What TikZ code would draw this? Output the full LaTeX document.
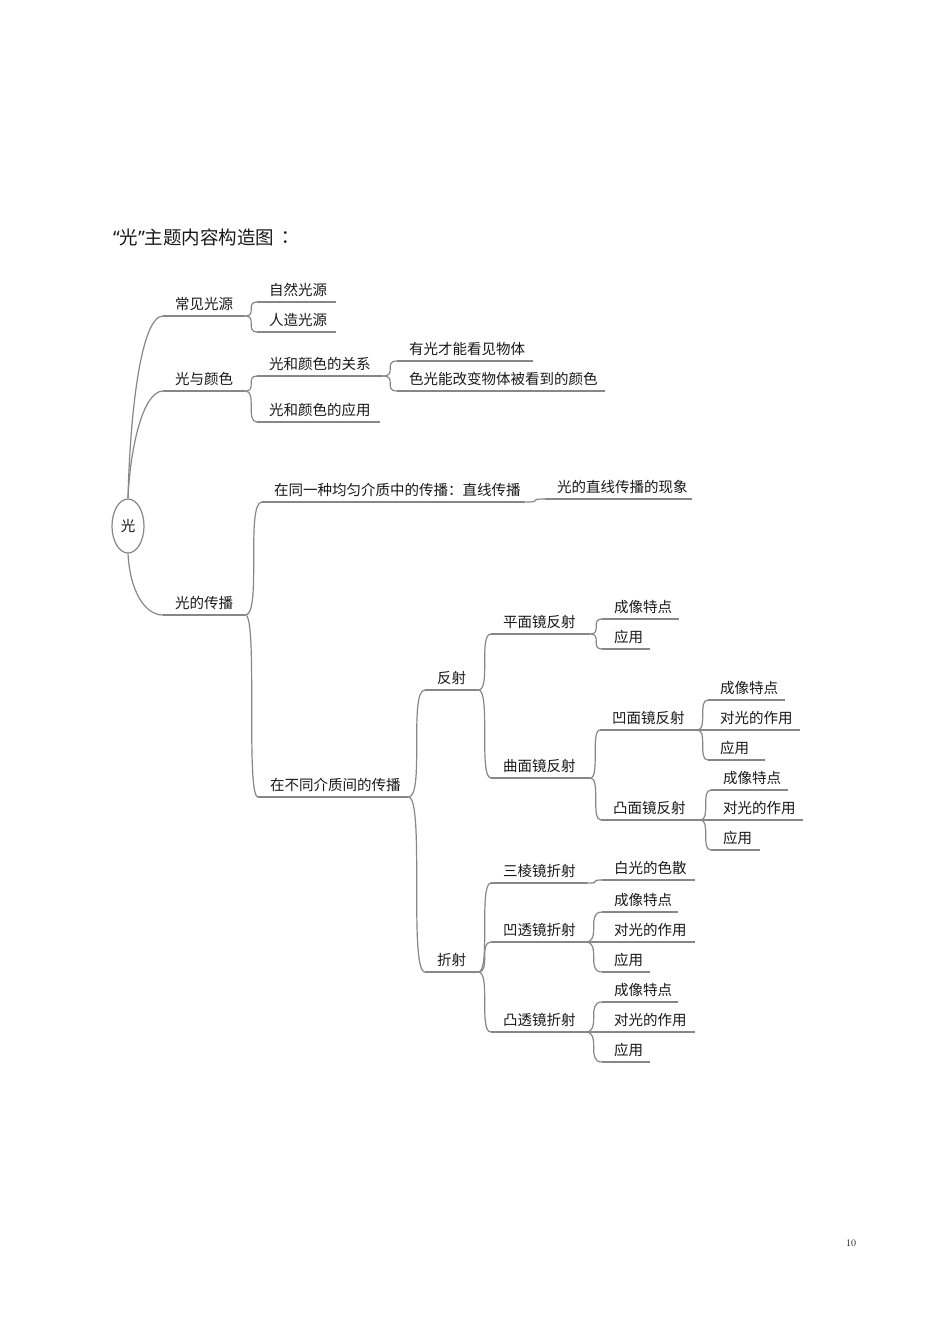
\documentclass[tikz,border=0pt]{standalone}
\usepackage{fontspec}
\newfontfamily\cjk{Noto Sans CJK SC}
\newfontfamily\cjkjp{Noto Sans CJK JP}
\newfontfamily\latq{Noto Sans}
\usetikzlibrary{calc,shapes.geometric}
\definecolor{linegray}{RGB}{135,135,135}
\definecolor{txt}{RGB}{25,25,25}
\newcommand\mmitem[5]{%
  \pgfmathsetmacro\mmw{#3-#2}%
  \node[item, text width=\mmw pt] (#1) at (#2,#4) {\hspace*{12pt}#5};
  \draw[ln] (#1.south west) -- (#1.south east);}
\newcommand\mmconn[2]{%
  \draw[ln] (#1.south east) .. controls (#2.south west |- #1.south east) and (#1.south east |- #2.south west) .. (#2.south west);}
\begin{document}
\begin{tikzpicture}[x=1pt,y=-1pt,
  ln/.style={draw=linegray, line width=1.2pt},
  item/.style={anchor=south west, inner xsep=0pt, inner ysep=6.5pt, text height=11pt, text depth=0pt, align=left, font=\cjk\fontsize{14.5}{14.5}\selectfont, text=txt},
]
\useasboundingbox (0,0) rectangle (950,1344);
\fill[white] (0,0) rectangle (950,1344);

\node[anchor=west, inner sep=0pt, font=\cjk\fontsize{18.5}{18.5}\selectfont, text=txt] (title) at (113,237) {{\latq “}光{\latq ”}主题内容构造图\hspace{2pt}{\cjkjp ：}};
\node[font=\fontsize{10}{10}\selectfont, text=txt] (pg) at (851,1243) {10};

\node[draw=linegray, line width=1.2pt, ellipse, minimum width=32pt, minimum height=54pt, inner sep=0pt, font=\cjk\fontsize{14.5}{14.5}\selectfont, text=txt] (root) at (128,526) {光};

% level 1
\mmitem{cjgy}{163}{245}{316}{常见光源}
\mmitem{gyys}{163}{245}{391}{光与颜色}
\mmitem{gdcb}{163}{245}{615}{光的传播}

% 常见光源
\mmitem{zrgy}{257}{336}{302}{自然光源}
\mmitem{rzgy}{257}{336}{332}{人造光源}
% 光与颜色
\mmitem{gxys}{257}{383}{376}{光和颜色的关系}
\mmitem{yyyy}{257}{380}{422}{光和颜色的应用}
\mmitem{ygcn}{397}{533}{361}{有光才能看见物体}
\mmitem{sgng}{397}{605}{391}{色光能改变物体被看到的颜色}
% 光的传播
\mmitem{tyjz}{262}{525}{502}{在同一种均匀介质中的传播：直线传播}
\mmitem{zxxx}{545}{692}{499}{光的直线传播的现象}
\mmitem{btjz}{258}{408}{797}{在不同介质间的传播}
% 反射
\mmitem{fs}{425}{478}{690}{反射}
\mmitem{pmj}{491}{590}{634}{平面镜反射}
\mmitem{pm1}{602}{679}{619}{成像特点}
\mmitem{pm2}{602}{650}{649}{应用}
\mmitem{qmj}{491}{590}{778}{曲面镜反射}
\mmitem{amj}{600}{697}{730}{凹面镜反射}
\mmitem{am1}{708}{785}{700}{成像特点}
\mmitem{am2}{708}{800}{730}{对光的作用}
\mmitem{am3}{708}{765}{760}{应用}
\mmitem{tmj}{601}{700}{820}{凸面镜反射}
\mmitem{tm1}{711}{788}{790}{成像特点}
\mmitem{tm2}{711}{803}{820}{对光的作用}
\mmitem{tm3}{711}{760}{850}{应用}
% 折射
\mmitem{zs}{425}{478}{972}{折射}
\mmitem{slj}{491}{588}{883}{三棱镜折射}
\mmitem{sl1}{602}{695}{880}{白光的色散}
\mmitem{atj}{491}{585}{942}{凹透镜折射}
\mmitem{at1}{602}{678}{912}{成像特点}
\mmitem{at2}{602}{695}{942}{对光的作用}
\mmitem{at3}{602}{650}{972}{应用}
\mmitem{ttj}{491}{585}{1032}{凸透镜折射}
\mmitem{tt1}{602}{678}{1002}{成像特点}
\mmitem{tt2}{602}{695}{1032}{对光的作用}
\mmitem{tt3}{602}{650}{1062}{应用}

% root connectors
\draw[ln] (root.north) .. controls ($(root.north)+(2,-85)$) and ($(cjgy.south west)+(-22,0)$) .. (cjgy.south west);
\draw[ln] (root.north) .. controls ($(root.north)+(2,-50)$) and ($(gyys.south west)+(-20,0)$) .. (gyys.south west);
\draw[ln] (root.south) .. controls ($(root.south)+(2,38)$) and ($(gdcb.south west)+(-18,0)$) .. (gdcb.south west);

% connectors
\mmconn{cjgy}{zrgy}
\mmconn{cjgy}{rzgy}
\mmconn{gyys}{gxys}
\mmconn{gyys}{yyyy}
\mmconn{gxys}{ygcn}
\mmconn{gxys}{sgng}
\mmconn{gdcb}{tyjz}
\mmconn{gdcb}{btjz}
\mmconn{tyjz}{zxxx}
\mmconn{btjz}{fs}
\mmconn{btjz}{zs}
\mmconn{fs}{pmj}
\mmconn{fs}{qmj}
\mmconn{pmj}{pm1}
\mmconn{pmj}{pm2}
\mmconn{qmj}{amj}
\mmconn{qmj}{tmj}
\mmconn{amj}{am1}
\mmconn{amj}{am2}
\mmconn{amj}{am3}
\mmconn{tmj}{tm1}
\mmconn{tmj}{tm2}
\mmconn{tmj}{tm3}
\mmconn{zs}{slj}
\mmconn{zs}{atj}
\mmconn{zs}{ttj}
\mmconn{slj}{sl1}
\mmconn{atj}{at1}
\mmconn{atj}{at2}
\mmconn{atj}{at3}
\mmconn{ttj}{tt1}
\mmconn{ttj}{tt2}
\mmconn{ttj}{tt3}
\end{tikzpicture}
\end{document}
